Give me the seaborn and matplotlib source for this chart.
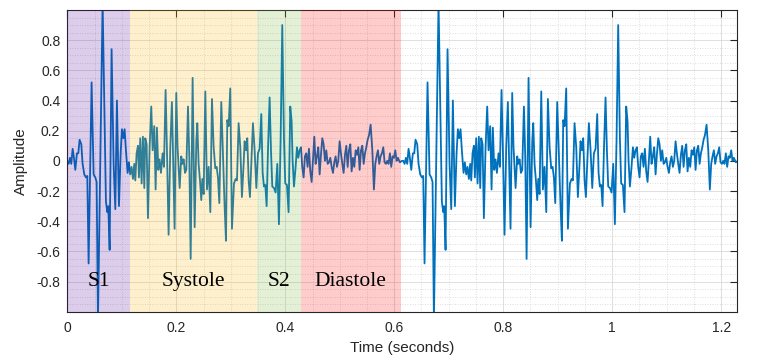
import numpy as np
import pandas as pd
import matplotlib
matplotlib.use("Agg")
import matplotlib.pyplot as plt
import seaborn as sns
from matplotlib.ticker import MultipleLocator

# one heart beat (the recording shows the same beat twice)
beat_t = [
    0.0000, 0.0025, 0.0049, 0.0073, 0.0098, 0.0122, 0.0147, 0.0177, 0.0202, 0.0226,
    0.0257, 0.0281, 0.0312, 0.0343, 0.0367, 0.0391, 0.0446, 0.0483, 0.0514, 0.0538,
    0.0563, 0.0648, 0.0709, 0.0734, 0.0752, 0.0777, 0.0813, 0.0850, 0.0881, 0.0911,
    0.0948, 0.0979, 0.1003, 0.1028, 0.1052, 0.1076, 0.1107, 0.1131, 0.1156, 0.1180,
    0.1205, 0.1229, 0.1248, 0.1272, 0.1297, 0.1315, 0.1339, 0.1364, 0.1388, 0.1413,
    0.1431, 0.1456, 0.1480, 0.1511, 0.1541, 0.1566, 0.1596, 0.1621, 0.1645, 0.1670,
    0.1694, 0.1719, 0.1749, 0.1774, 0.1804, 0.1829, 0.1859, 0.1890, 0.1920, 0.1945,
    0.1969, 0.2000, 0.2024, 0.2062, 0.2092, 0.2111, 0.2135, 0.2160, 0.2184, 0.2215,
    0.2239, 0.2264, 0.2300, 0.2337, 0.2368, 0.2386, 0.2410, 0.2435, 0.2459, 0.2478,
    0.2502, 0.2533, 0.2563, 0.2594, 0.2625, 0.2655, 0.2686, 0.2716, 0.2741, 0.2765,
    0.2790, 0.2826, 0.2857, 0.2887, 0.2912, 0.2936, 0.2961, 0.2991, 0.3022, 0.3059,
    0.3089, 0.3114, 0.3144, 0.3175, 0.3205, 0.3236, 0.3254, 0.3279, 0.3303, 0.3328,
    0.3352, 0.3377, 0.3407, 0.3438, 0.3469, 0.3499, 0.3530, 0.3560, 0.3585, 0.3609,
    0.3634, 0.3658, 0.3683, 0.3713, 0.3738, 0.3762, 0.3793, 0.3823, 0.3854, 0.3884,
    0.3915, 0.3945, 0.3976, 0.4000, 0.4031, 0.4061, 0.4092, 0.4117, 0.4135, 0.4160,
    0.4190, 0.4215, 0.4239, 0.4263, 0.4288, 0.4312, 0.4337, 0.4361, 0.4386, 0.4410,
    0.4435, 0.4459, 0.4484, 0.4508, 0.4533, 0.4557, 0.4582, 0.4606, 0.4631, 0.4655,
    0.4680, 0.4704, 0.4729, 0.4753, 0.4778, 0.4802, 0.4827, 0.4851, 0.4876, 0.4900,
    0.4924, 0.4949, 0.4973, 0.4998, 0.5022, 0.5047, 0.5071, 0.5096, 0.5120, 0.5145,
    0.5169, 0.5194, 0.5218, 0.5243, 0.5267, 0.5292, 0.5316, 0.5341, 0.5365, 0.5390,
    0.5414, 0.5439, 0.5463, 0.5488, 0.5512, 0.5537, 0.5567, 0.5598, 0.5627, 0.5652,
    0.5676, 0.5701, 0.5725, 0.5750, 0.5774, 0.5799, 0.5823, 0.5848, 0.5872, 0.5896,
    0.5921, 0.5945, 0.5970, 0.5994, 0.6019, 0.6043, 0.6068, 0.6104, 0.6141,
]
beat_amp = [
    0.00, -0.02, 0.02, -0.02, 0.08, 0.02, -0.06, 0.05, 0.05, 0.14,
    0.11, -0.02, -0.09, -0.11, -0.10, -0.68, 0.52, -0.09, -0.11, -0.14,
    -1.05, 1.05, -0.27, -0.34, -0.30, -0.59, 0.74, -0.02, -0.32, 0.40,
    -0.30, 0.05, 0.21, 0.15, 0.21, 0.07, -0.08, -0.01, -0.09, -0.04,
    -0.12, -0.02, -0.13, 0.05, 0.10, -0.11, 0.15, -0.15, 0.16, -0.18,
    0.15, 0.11, -0.38, 0.09, 0.36, 0.07, 0.23, -0.19, 0.22, -0.06,
    0.01, -0.08, 0.05, -0.04, 0.47, 0.07, -0.49, 0.09, 0.39, -0.04,
    -0.45, 0.45, 0.09, -0.18, 0.03, -0.02, 0.01, -0.08, -0.06, 0.36,
    0.03, -0.65, 0.55, -0.44, 0.13, 0.25, -0.02, -0.13, -0.26, -0.12,
    -0.22, 0.46, -0.19, -0.04, -0.34, 0.41, 0.09, -0.05, -0.04, -0.11,
    -0.28, 0.39, 0.03, -0.30, -0.53, 0.27, 0.23, 0.48, -0.45, -0.15,
    -0.12, -0.13, 0.25, 0.09, -0.24, -0.02, 0.13, 0.07, 0.15, -0.13,
    -0.24, -0.02, 0.25, 0.07, -0.18, 0.05, 0.08, 0.31, -0.08, -0.17,
    -0.16, -0.30, 0.07, 0.42, 0.07, -0.17, -0.18, -0.21, -0.02, -0.42,
    0.14, 0.90, 0.15, -0.15, -0.16, -0.34, 0.36, 0.26, 0.00, -0.17,
    -0.04, 0.09, 0.02, 0.07, 0.09, -0.04, -0.11, 0.03, 0.05, -0.04,
    0.08, -0.07, -0.14, 0.00, 0.16, -0.02, 0.03, 0.09, -0.09, 0.04,
    0.15, 0.11, 0.00, 0.07, -0.02, -0.01, 0.02, -0.04, -0.08, -0.01,
    0.03, -0.04, 0.00, 0.13, 0.05, -0.02, -0.08, 0.04, 0.10, -0.04,
    0.07, 0.11, -0.07, 0.02, -0.04, 0.07, 0.04, 0.09, -0.06, 0.07,
    0.10, -0.02, 0.05, 0.09, 0.14, 0.17, 0.24, 0.07, -0.19, -0.02,
    0.03, 0.07, -0.02, 0.03, 0.05, 0.09, -0.01, -0.02, 0.00, -0.02,
    0.05, -0.04, 0.03, 0.02, 0.07, 0.00, 0.02, -0.01, 0.00,
]
beat_onsets = [0.0, 0.6165]

phase_names = ["S1", "Systole", "S2", "Diastole"]
phase_edges = [0.0, 0.1145, 0.349, 0.428, 0.612]
phase_colors = ["#50059a", "#fab400", "#78b432", "#ff0000"]

x_ticks = [0, 0.2, 0.4, 0.6, 0.8, 1.0, 1.2]
x_labels = ["0", "0.2", "0.4", "0.6", "0.8", "1", "1.2"]
y_ticks = [-0.8, -0.6, -0.4, -0.2, 0, 0.2, 0.4, 0.6, 0.8]
y_labels = ["-0.8", "-0.6", "-0.4", "-0.2", "0", "0.2", "0.4", "0.6", "0.8"]

frames = [pd.DataFrame({"Time": np.array(beat_t) + onset, "Amplitude": beat_amp})
          for onset in beat_onsets]
df = pd.concat(frames, ignore_index=True)

sns.set_style("white")
plt.rcParams["font.family"] = ["Liberation Sans", "DejaVu Sans"]
ink = "#262626"

fig = plt.figure(figsize=(7.63, 3.63), dpi=100)
ax = fig.add_axes([0.0882, 0.1413, 0.8777, 0.8312])

sns.lineplot(data=df, x="Time", y="Amplitude", estimator=None, sort=False,
             color="#0072BD", lw=1.3, ax=ax, zorder=2)

# shaded heart-sound phases with their names
for name, lo, hi, col in zip(phase_names, phase_edges[:-1], phase_edges[1:], phase_colors):
    ax.axvspan(lo, hi, color=col, alpha=0.2, lw=0, zorder=3)
    ax.text((lo + hi) / 2, -0.8, name, ha="center", va="center", fontsize=15.5,
            family=["Liberation Serif", "DejaVu Serif"], color="black", zorder=4)

ax.set_xlim(0, 1.229)
ax.set_ylim(-1, 1)
ax.set_xticks(x_ticks)
ax.set_xticklabels(x_labels)
ax.set_yticks(y_ticks)
ax.set_yticklabels(y_labels)
ax.xaxis.set_minor_locator(MultipleLocator(0.05))
ax.yaxis.set_minor_locator(MultipleLocator(0.05))

ax.set_axisbelow(True)
ax.grid(which="major", color="#d9d9d9", lw=0.6, ls="-")
ax.grid(which="minor", color="#d4d4d4", lw=0.6, ls=(0, (1, 2)))
ax.tick_params(which="major", direction="in", top=True, right=True, length=5,
               width=0.8, color=ink, labelcolor=ink, labelsize=10)
ax.tick_params(axis="x", which="major", pad=7)
ax.tick_params(axis="y", which="major", pad=5)
ax.tick_params(which="minor", length=0)
for sp in ax.spines.values():
    sp.set_color(ink)
    sp.set_linewidth(0.8)

ax.set_xlabel("Time (seconds)", fontsize=11, color=ink, labelpad=4)
ax.set_ylabel("Amplitude", fontsize=11, color=ink, labelpad=6)

fig.savefig("out.png", dpi=100)
